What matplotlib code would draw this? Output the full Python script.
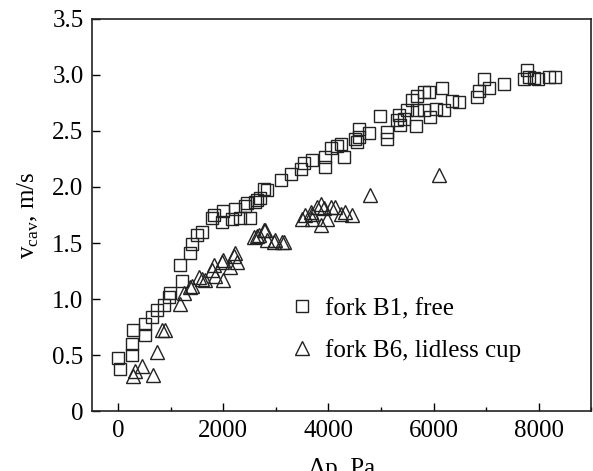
import matplotlib
matplotlib.use("Agg")
import matplotlib.pyplot as plt
from matplotlib.ticker import MultipleLocator

plt.rcParams['font.family'] = ['Liberation Serif', 'DejaVu Serif']
plt.rcParams['mathtext.fontset'] = 'custom'
plt.rcParams['mathtext.rm'] = 'Liberation Serif'

# fork B1, free
b1_dp = [5, 40, 260, 260, 290, 515, 515, 640, 735, 865, 960, 990, 1210, 1180,
         1370, 1400, 1500, 1590, 1785, 1815, 1975, 2000, 2160, 2230, 2320, 2420,
         2450, 2510, 2610, 2640, 2700, 2770, 2830, 3090, 3280, 3470, 3530, 3690,
         3940, 3940, 4040, 4170, 4230, 4290, 4510, 4550, 4580, 4580, 4770, 4990,
         5120, 5120, 5310, 5340, 5370, 5430, 5500, 5590, 5660, 5690, 5690, 5820,
         5820, 5910, 5940, 6040, 6170, 6200, 6360, 6480, 6830, 6860, 6960, 7050,
         7340, 7720, 7780, 7820, 7910, 7980, 8200, 8320]
b1_v = [0.47, 0.38, 0.50, 0.60, 0.72, 0.68, 0.78, 0.84, 0.90, 0.95, 1.02, 1.05,
        1.16, 1.30, 1.41, 1.49, 1.57, 1.60, 1.72, 1.75, 1.69, 1.79, 1.71, 1.80,
        1.72, 1.83, 1.86, 1.72, 1.87, 1.88, 1.90, 1.98, 1.97, 2.06, 2.12, 2.16,
        2.21, 2.24, 2.18, 2.27, 2.35, 2.37, 2.38, 2.27, 2.43, 2.40, 2.52, 2.45,
        2.48, 2.63, 2.49, 2.43, 2.60, 2.64, 2.55, 2.61, 2.69, 2.78, 2.54, 2.81,
        2.69, 2.69, 2.85, 2.85, 2.62, 2.70, 2.88, 2.69, 2.77, 2.76, 2.80, 2.86,
        2.96, 2.88, 2.92, 2.96, 3.04, 2.98, 2.97, 2.96, 2.98, 2.98]

# fork B6, lidless cup
b6_dp = [290, 325, 450, 670, 735, 895, 830, 1180, 1245, 1370, 1400, 1530, 1590,
         1660, 1785, 1815, 1850, 1975, 2000, 2000, 2130, 2195, 2230, 2260, 2580,
         2640, 2670, 2770, 2800, 2830, 2960, 2990, 3120, 3150, 3500, 3560, 3660,
         3690, 3690, 3780, 3850, 3850, 3910, 3970, 4040, 4130, 4230, 4320, 4450,
         4790, 6100]
b6_v = [0.31, 0.36, 0.40, 0.32, 0.53, 0.72, 0.72, 0.96, 1.05, 1.11, 1.12, 1.20,
        1.18, 1.17, 1.26, 1.30, 1.21, 1.33, 1.17, 1.35, 1.29, 1.38, 1.41, 1.33,
        1.55, 1.56, 1.57, 1.62, 1.62, 1.53, 1.51, 1.53, 1.51, 1.51, 1.71, 1.75,
        1.78, 1.71, 1.76, 1.82, 1.85, 1.66, 1.81, 1.71, 1.82, 1.82, 1.76, 1.78,
        1.75, 1.93, 2.11]

y_ticks = [0, 0.5, 1.0, 1.5, 2.0, 2.5, 3.0, 3.5]
y_tick_labels = ['0', '0.5', '1.0', '1.5', '2.0', '2.5', '3.0', '3.5']
x_ticks = [0, 2000, 4000, 6000, 8000]

fig = plt.figure(figsize=(5.93, 4.71), dpi=100)
ax = fig.add_axes([0.155, 0.127, 0.842, 0.833])

ax.plot(b1_dp, b1_v, linestyle='none', marker='s', markersize=8.6,
        markerfacecolor='none', markeredgecolor='#222222', markeredgewidth=1.0,
        label='fork B1, free')
ax.plot(b6_dp, b6_v, linestyle='none', marker='^', markersize=10,
        markerfacecolor='none', markeredgecolor='#222222', markeredgewidth=1.0,
        label='fork B6, lidless cup')

ax.set_xlim(-500, 9000)
ax.set_ylim(0, 3.5)
ax.set_xticks(x_ticks)
ax.xaxis.set_minor_locator(MultipleLocator(1000))
ax.set_yticks(y_ticks)
ax.set_yticklabels(y_tick_labels)

ax.tick_params(axis='both', which='major', direction='in', length=6, width=1.0,
               labelsize=18, pad=6, top=False, right=False)
ax.tick_params(axis='x', which='minor', direction='in', length=3, width=1.0,
               top=False)

for s in ax.spines.values():
    s.set_linewidth(1.2)
    s.set_color('#222222')

ax.set_xlabel('Δp, Pa', fontsize=18, labelpad=12)
ax.set_ylabel(r'v$_{\mathrm{cav}}$, m/s', fontsize=18, labelpad=8)

ax.legend(loc='upper left', bbox_to_anchor=(0.37, 0.315), frameon=False,
          fontsize=18, handletextpad=0.35, labelspacing=0.75, handlelength=1.2,
          borderaxespad=0)

fig.savefig('out.png', dpi=100)
